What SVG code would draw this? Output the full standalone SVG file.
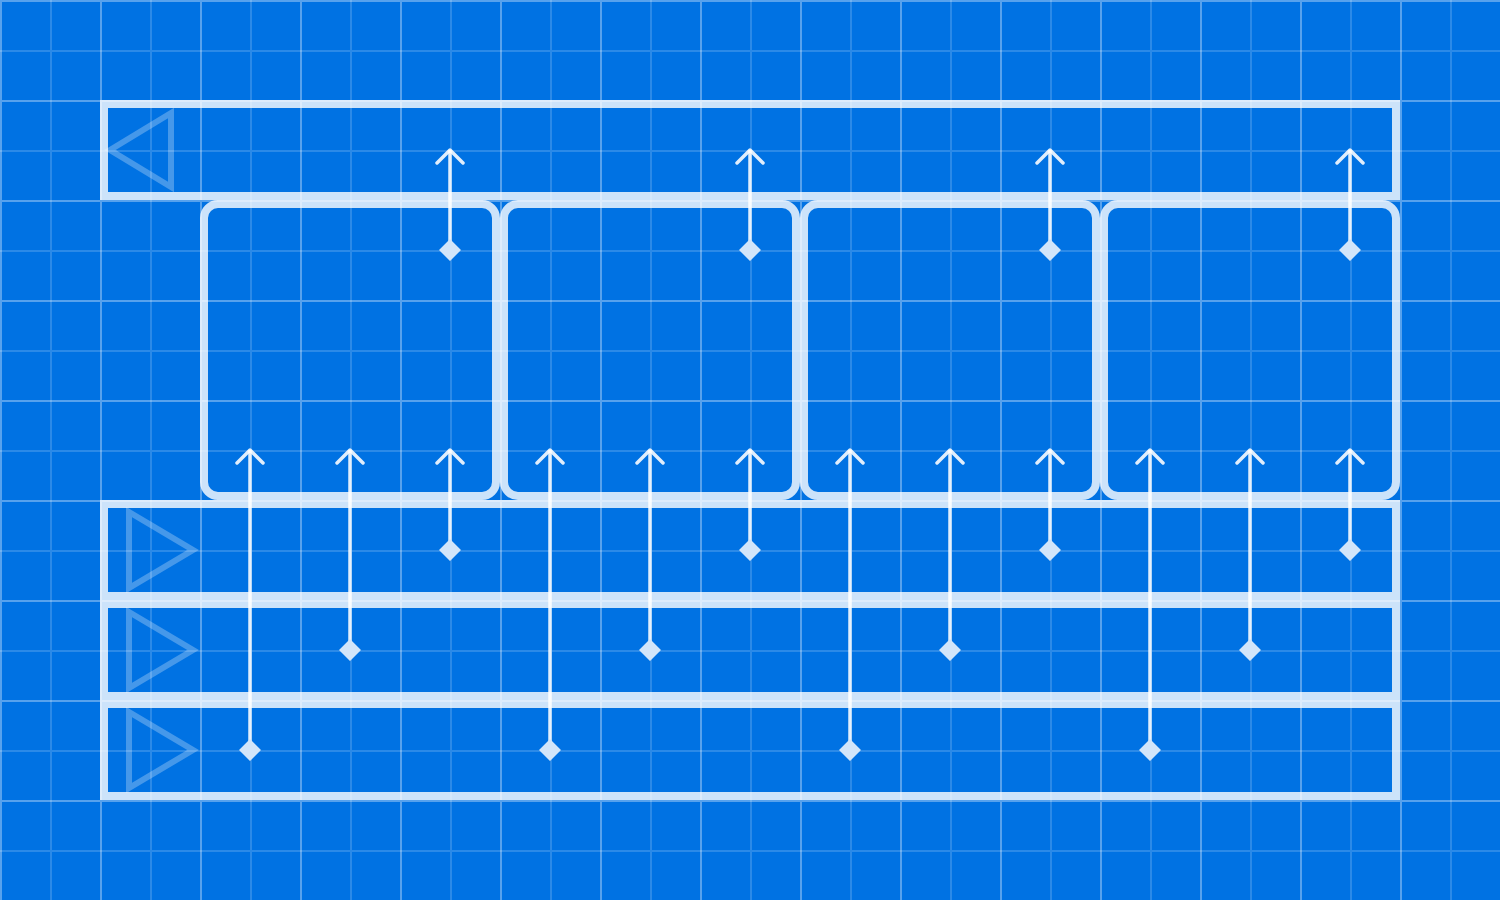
<svg xmlns="http://www.w3.org/2000/svg" width="1500" height="900" viewBox="0 0 1500 900">
<defs>
<pattern id="grid" width="100" height="100" patternUnits="userSpaceOnUse">
<path d="M0 51H100M51 0V100" fill="none" stroke="#ffffff" stroke-opacity="0.17" stroke-width="2"/>
<path d="M0 1H100M1 0V100" fill="none" stroke="#ffffff" stroke-opacity="0.34" stroke-width="2"/>
</pattern>
</defs>
<style>
.bar{fill:none;stroke:#ffffff;stroke-opacity:0.8;stroke-width:8}
.box{fill:none;stroke:#ffffff;stroke-opacity:0.8;stroke-width:8}
.tri{fill:none;stroke:#ffffff;stroke-opacity:0.27;stroke-width:6}
.wire{stroke:#ffffff;stroke-opacity:0.88;stroke-width:3.5;fill:none}
.chev{stroke:#ffffff;stroke-opacity:0.88;stroke-width:3.5;fill:none;stroke-linecap:round;stroke-linejoin:round}
.dia{fill:#D2E6FA}
</style>
<rect width="1500" height="900" fill="#0072E3"/>
<rect width="1500" height="900" fill="url(#grid)"/>

<g id="bar-top">
<rect class="bar" x="104" y="104" width="1292" height="92"/>
<polygon class="tri" points="110,150 171,113 171,187"/>
</g>
<g id="bar-1">
<rect class="bar" x="104" y="504" width="1292" height="92"/>
<polygon class="tri" points="129,512 193,550 129,588"/>
</g>
<g id="bar-2">
<rect class="bar" x="104" y="604" width="1292" height="92"/>
<polygon class="tri" points="129,612 193,650 129,688"/>
</g>
<g id="bar-3">
<rect class="bar" x="104" y="704" width="1292" height="92"/>
<polygon class="tri" points="129,712 193,750 129,788"/>
</g>
<g id="box-1"><rect class="box" x="204" y="204" width="292" height="292" rx="14"/></g>
<g id="box-2"><rect class="box" x="504" y="204" width="292" height="292" rx="14"/></g>
<g id="box-3"><rect class="box" x="804" y="204" width="292" height="292" rx="14"/></g>
<g id="box-4"><rect class="box" x="1104" y="204" width="292" height="292" rx="14"/></g>

<g id="connectors">
<path class="wire" d="M450 250V150M750 250V150M1050 250V150M1350 250V150"/>
<path class="chev" d="M437 163L450 150L463 163M737 163L750 150L763 163M1037 163L1050 150L1063 163M1337 163L1350 150L1363 163"/>
<path class="dia" d="M450 239L461 250L450 261L439 250ZM750 239L761 250L750 261L739 250ZM1050 239L1061 250L1050 261L1039 250ZM1350 239L1361 250L1350 261L1339 250Z"/>
<path class="wire" d="M250 750V450M350 650V450M450 550V450M550 750V450M650 650V450M750 550V450M850 750V450M950 650V450M1050 550V450M1150 750V450M1250 650V450M1350 550V450"/>
<path class="chev" d="M237 463L250 450L263 463M337 463L350 450L363 463M437 463L450 450L463 463M537 463L550 450L563 463M637 463L650 450L663 463M737 463L750 450L763 463M837 463L850 450L863 463M937 463L950 450L963 463M1037 463L1050 450L1063 463M1137 463L1150 450L1163 463M1237 463L1250 450L1263 463M1337 463L1350 450L1363 463"/>
<path class="dia" d="M250 739L261 750L250 761L239 750ZM350 639L361 650L350 661L339 650ZM450 539L461 550L450 561L439 550ZM550 739L561 750L550 761L539 750ZM650 639L661 650L650 661L639 650ZM750 539L761 550L750 561L739 550ZM850 739L861 750L850 761L839 750ZM950 639L961 650L950 661L939 650ZM1050 539L1061 550L1050 561L1039 550ZM1150 739L1161 750L1150 761L1139 750ZM1250 639L1261 650L1250 661L1239 650ZM1350 539L1361 550L1350 561L1339 550Z"/>
</g>
</svg>
